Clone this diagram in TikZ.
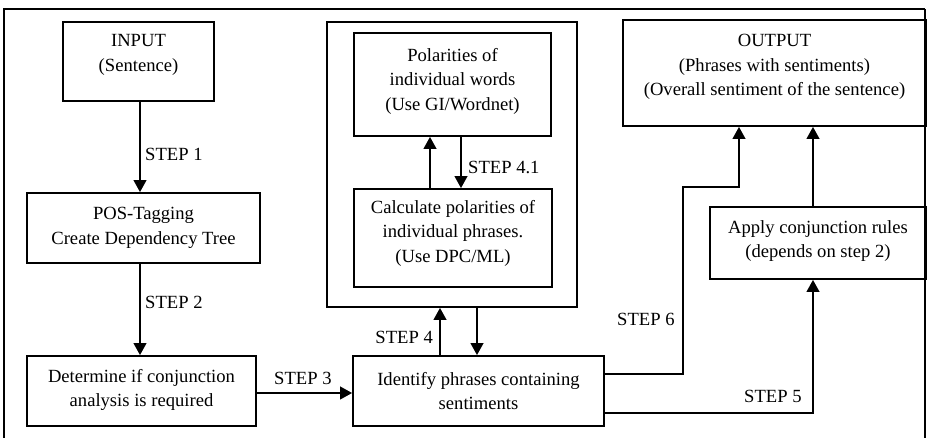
\documentclass[tikz,border=0pt]{standalone}
\usepackage{fontspec}
\setmainfont{Liberation Serif}
\usetikzlibrary{arrows.meta}
\tikzset{
  box/.style={draw, line width=1.7pt, inner sep=0pt, rectangle},
  txt/.style={align=center, inner sep=0pt, font=\fontsize{18.6}{24.5}\selectfont},
  steplbl/.style={inner sep=0pt, font=\fontsize{18.6}{24.5}\selectfont},
  arr/.style={line width=2.3pt, -{Triangle[width=12.5pt,length=12pt]}},
  ln/.style={line width=2pt}
}
\begin{document}
\begin{tikzpicture}[x=1pt,y=-1pt]
\useasboundingbox (0,0) rectangle (927,438);
% outer frame (bottom edge outside the picture)
\draw[line width=2.4pt] (4,438) -- (4,9) -- (925,9);
\draw[line width=1.2pt] (925,9) -- (925,438);
% boxes
\node[box, minimum width=151pt, minimum height=79pt] (in) at (138.5,61.5) {};
\node[box, minimum width=233pt, minimum height=70pt] (pos) at (143.5,228) {};
\node[box, minimum width=229pt, minimum height=70pt] (det) at (141.5,391) {};
\node[box, minimum width=251pt, minimum height=70pt] (id) at (478.5,391) {};
\node[box, minimum width=250pt, minimum height=285pt] (cont) at (452,164.5) {};
\node[box, minimum width=197pt, minimum height=103pt] (pol) at (452.5,84.5) {};
\node[box, minimum width=198pt, minimum height=98pt] (calc) at (453,238) {};
\node[box, minimum width=303pt, minimum height=106pt] (out) at (774.5,73) {};
\node[box, minimum width=216pt, minimum height=72pt] (app) at (818,243) {};
% texts
\node[txt] (tin) at (138.5,55) {INPUT\\(Sentence)};
\node[txt] (tpos) at (143.5,228) {POS-Tagging\\Create Dependency Tree};
\node[txt] (tdet) at (141.5,390) {Determine if conjunction\\analysis is required};
\node[txt] (tid) at (478.5,391) {Identify phrases containing\\sentiments};
\node[txt] (tpol) at (452.5,81) {Polarities of\\individual words\\(Use GI/Wordnet)};
\node[txt] (tcalc) at (453,233) {Calculate polarities of\\individual phrases.\\(Use DPC/ML)};
\node[txt] (tout) at (774.5,67) {OUTPUT\\(Phrases with sentiments)\\(Overall sentiment of the sentence)};
\node[txt] (tapp) at (818,241) {Apply conjunction rules\\(depends on step 2)};
% helper coordinates
\coordinate (xa) at (140,0);
\coordinate (xup) at (430,0);
\coordinate (xdn) at (461,0);
\coordinate (xs4) at (440,0);
\coordinate (xs4d) at (477,0);
\coordinate (ys3) at (0,393);
\coordinate (ys6) at (0,374);
\coordinate (c6a) at (683,374);
\coordinate (c6b) at (683,187);
\coordinate (c6c) at (739,187);
\coordinate (ys5) at (0,413);
\coordinate (c5) at (813,413);
% connectors
\draw[arr] (in.south -| xa) -- (pos.north -| xa);
\draw[arr] (pos.south -| xa) -- (det.north -| xa);
\draw[arr] (det.east |- ys3) -- (id.west |- ys3);
\draw[arr] (calc.north -| xup) -- (pol.south -| xup);
\draw[arr] (pol.south -| xdn) -- (calc.north -| xdn);
\draw[arr] (id.north -| xs4) -- (cont.south -| xs4);
\draw[arr] (cont.south -| xs4d) -- (id.north -| xs4d);
\draw[arr] (id.east |- ys6) -- (c6a) -- (c6b) -- (c6c) -- (out.south -| c6c);
\draw[arr] (id.east |- ys5) -- (c5) -- (app.south -| c5);
\draw[arr] (app.north -| c5) -- (out.south -| c5);
% step labels
\node[steplbl, anchor=west] (s1) at (145,154) {STEP 1};
\node[steplbl, anchor=west] (s2) at (145,302) {STEP 2};
\node[steplbl, anchor=west] (s3) at (274,378) {STEP 3};
\node[steplbl, anchor=east] (s4) at (433,337) {STEP 4};
\node[steplbl, anchor=west] (s41) at (468,167) {STEP 4.1};
\node[steplbl, anchor=west] (s6) at (617,319) {STEP 6};
\node[steplbl, anchor=west] (s5) at (744,396) {STEP 5};
\end{tikzpicture}
\end{document}
